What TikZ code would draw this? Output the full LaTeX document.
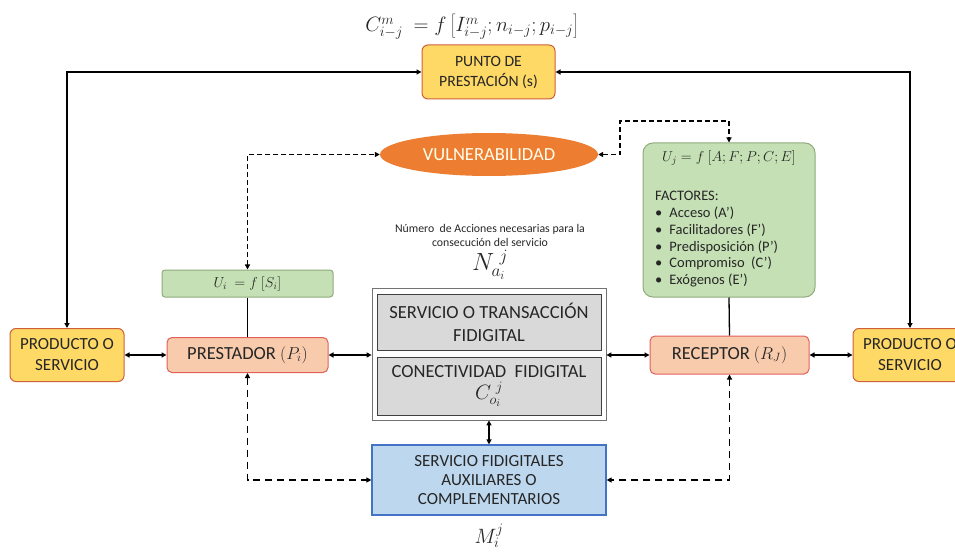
\documentclass[tikz,border=0pt]{standalone}
\usepackage{fontspec}
\setmainfont{Carlito}
\usetikzlibrary{arrows.meta,shapes.geometric}
\definecolor{txt}{HTML}{262626}
\definecolor{yfill}{HTML}{FFD966}
\definecolor{ydraw}{HTML}{D0603A}
\definecolor{sfill}{HTML}{F8CBAD}
\definecolor{sdraw}{HTML}{E0605A}
\definecolor{gfill}{HTML}{C5E0B4}
\definecolor{gdraw}{HTML}{8FAA7C}
\definecolor{grfill}{HTML}{D9D9D9}
\definecolor{grdraw}{HTML}{404040}
\definecolor{bfill}{HTML}{BDD7EE}
\definecolor{bdraw}{HTML}{4472C4}
\definecolor{ofill}{HTML}{ED7D31}
\tikzset{
  base/.style={text=txt, align=center, inner sep=0pt, line width=1pt},
  ybox/.style={base, draw=ydraw, fill=yfill, rounded corners=6pt},
  sbox/.style={base, draw=sdraw, fill=sfill, rounded corners=5pt, font=\fontsize{18.5}{20}\selectfont},
  gbox/.style={base, draw=gdraw, fill=gfill, rounded corners=3pt},
  grbox/.style={base, draw=grdraw, fill=grfill, line width=0.8pt, font=\fontsize{18.5}{23}\selectfont},
  bbox/.style={base, draw=bdraw, fill=bfill, line width=1.2pt, font=\fontsize{17}{19}\selectfont},
  conn/.style={line width=1.3pt, black},
  biarrow/.style={conn, {Triangle[length=5pt,width=5pt]}-{Triangle[length=5pt,width=5pt]}},
  dasharrow/.style={biarrow, dash pattern=on 5pt off 3pt},
  ldasharrow/.style={biarrow, dash pattern=on 7pt off 5pt},
}
\begin{document}
\begin{tikzpicture}[x=1pt,y=-1pt]
\useasboundingbox (0,0) rectangle (955,553);
\clip (0,0) rectangle (955,553);

% formula at top
\node[text=txt, font=\fontsize{21.5}{24}\selectfont, inner sep=0pt] (ftop) at (472,27)
  {$C^{m}_{i-j}\ = f\left[I^{m}_{i-j}; n_{i-j}; p_{i-j}\right]$};

\node[ybox, minimum width=133pt, minimum height=54pt, font=\fontsize{15.7}{20}\selectfont] (punto) at (488.5,72) {PUNTO DE\\PRESTACIÓN (s)};
\node[ybox, minimum width=114pt, minimum height=53pt, font=\fontsize{17}{21}\selectfont] (prodl) at (67,355) {PRODUCTO O\\SERVICIO};
\node[ybox, minimum width=114pt, minimum height=53pt, font=\fontsize{17}{21}\selectfont] (prodr) at (910,355) {PRODUCTO O\\SERVICIO};

\node[sbox, minimum width=161pt, minimum height=35pt] (prest) at (247.5,355) {PRESTADOR $(P_i)$};
\node[sbox, minimum width=159pt, minimum height=38pt] (rec) at (729.5,355) {RECEPTOR $(R_J)$};

\node[gbox, minimum width=171pt, minimum height=27pt, font=\fontsize{14}{16}\selectfont] (ui) at (247.5,283.5) {$U_i\ = f\ [S_i]$};

\node[ellipse, fill=ofill, text=white!92!yellow, inner sep=0pt, minimum width=218pt, minimum height=43pt, font=\fontsize{18.5}{20}\selectfont] (vul) at (489,154.5) {VULNERABILIDAD};

\node[gbox, rounded corners=10pt, minimum width=172pt, minimum height=154pt] (uj) at (729,220) {};
\node[text=txt, font=\fontsize{14}{16}\selectfont] (ujf) at (729,158) {$U_j = f\ [A; F; P; C; E]$};
\node[text=txt, anchor=north west, align=left, inner sep=0pt, font=\fontsize{14.5}{16.8}\selectfont] (ujl) at (655,191)
  {FACTORES:\\
   \textbullet\hspace{7pt}Acceso (A’)\\
   \textbullet\hspace{7pt}Facilitadores (F’)\\
   \textbullet\hspace{7pt}Predisposición (P’)\\
   \textbullet\hspace{7pt}Compromiso\ \ (C’)\\
   \textbullet\hspace{7pt}Exógenos (E’)};

% central block
\node[base, draw=black!55, fill=white, line width=0.8pt, minimum width=234pt, minimum height=132pt] (cen) at (489,354) {};
\node[grbox, minimum width=224pt, minimum height=56pt] (serv) at (489,322) {SERVICIO O TRANSACCIÓN\\FIDIGITAL};
\node[grbox, minimum width=224pt, minimum height=58pt] (conec) at (489,386) {CONECTIVIDAD\ \ FIDIGITAL\\[-1pt]{\fontsize{21}{23}\selectfont$C_{o_{i}}^{\ j}$}};

\node[text=txt, align=center, font=\fontsize{11.8}{14}\selectfont] (num) at (490,235) {Número\ \ de Acciones necesarias para la\\consecución del servicio};
\node[text=txt, font=\fontsize{24}{26}\selectfont, inner sep=0pt] (nai) at (490,265) {$N_{a_{i}}^{\ j}$};

\node[bbox, minimum width=234pt, minimum height=70pt] (blue) at (489,480) {SERVICIO FIDIGITALES\\AUXILIARES O\\COMPLEMENTARIOS};
\node[text=txt, font=\fontsize{21}{23}\selectfont, inner sep=0pt] (mij) at (489,536) {$M_{i}^{j}$};

% connectors
\draw[biarrow] (prodl.north) |- (punto.west);
\draw[biarrow] (prodr.north) |- (punto.east);
\draw[biarrow] (prodl.east) -- (prest.west);
\draw[biarrow] (prest.east) -- (cen.west |- prest.east);
\draw[biarrow] (cen.east |- rec.west) -- (rec.west);
\draw[biarrow] (rec.east) -- (prodr.west);
\draw[biarrow] (cen.south) -- (blue.north);
\draw[conn] (ui.south) -- (prest.north);
\draw[conn] (uj.south) -- (rec.north);
\coordinate (k1) at (620,121);
\draw[dasharrow] (ui.north) |- (vul.west);
\draw[dasharrow] (vul.east) -| (k1) -| (uj.north);
\draw[ldasharrow] (prest.south) |- (blue.west);
\draw[ldasharrow] (rec.south) |- (blue.east);
\end{tikzpicture}
\end{document}
